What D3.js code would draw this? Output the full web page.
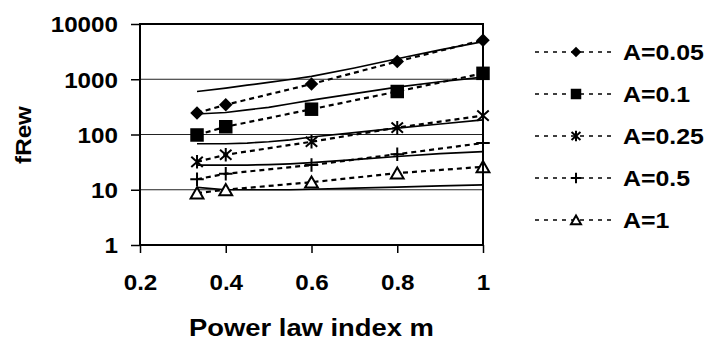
<!DOCTYPE html>
<html>
<head>
<meta charset="utf-8">
<script src="https://cdn.jsdelivr.net/npm/d3@7"></script>
<style>
  body { margin: 0; background: #fff; }
  text { font-family: "Liberation Sans", Arial, sans-serif; font-weight: bold; fill: #000; }
</style>
</head>
<body>
<svg id="chart" width="710" height="345"></svg>
<script>
// measured points (markers + dashed lines)
const mValues = [0.333, 0.4, 0.6, 0.8, 1.0];
const seriesNames = ["A=0.05", "A=0.1", "A=0.25", "A=0.5", "A=1"];
const markerTypes = ["diamond", "square", "star", "plus", "triangle"];
const fRew005 = [245, 345, 820, 2100, 5100];
const fRew01 = [98, 138, 287, 600, 1280];
const fRew025 = [32, 43, 74, 133, 220];
const fRew05 = [15.5, 19.5, 28, 44, 70];
const fRew1 = [8.7, 10, 13.7, 20, 26];

// solid curves (no markers)
const theoryM = [0.333, 0.4, 0.45, 0.5, 0.55, 0.6, 0.7, 0.8, 0.9, 1.0];
const theory005 = [600, 690, 780, 880, 990, 1130, 1600, 2350, 3400, 4800];
const theory01 = [235, 250, 280, 310, 360, 420, 550, 720, 900, 1090];
const theory025 = [68, 68, 70, 74, 80, 90, 108, 130, 155, 184];
const theory05 = [28, 28, 28, 28.5, 29.5, 31, 35, 40, 45, 49];
const theory1 = [11, 10, 10, 10, 10, 10.2, 10.7, 11.2, 11.8, 12.3];

const yTicks = [1, 10, 100, 1000, 10000];
const xTicks = [0.2, 0.4, 0.6, 0.8, 1];

const measured = [fRew005, fRew01, fRew025, fRew05, fRew1];
const theory = [theory005, theory01, theory025, theory05, theory1];

const plotLeft = 140, plotRight = 483, plotTop = 24, plotBottom = 245;

const svg = d3.select("#chart");

const x = d3.scaleLinear().domain([0.2, 1]).range([plotLeft, plotRight]);
const y = d3.scaleLog().domain([1, 10000]).range([plotBottom, plotTop]);

function stretch(sel, k) {
  sel.each(function () {
    const w = this.getComputedTextLength();
    d3.select(this).attr("textLength", w * k).attr("lengthAdjust", "spacingAndGlyphs");
  });
}

function markerPath(type, s) {
  const h = s / 2;
  if (type === "diamond") return `M0,${-h}L${h},0L0,${h}L${-h},0Z`;
  if (type === "square") return `M${-h},${-h}H${h}V${h}H${-h}Z`;
  if (type === "star") return `M${-h * 0.85},${-h * 0.75}L${h * 0.85},${h * 0.75}M${h * 0.85},${-h * 0.75}L${-h * 0.85},${h * 0.75}M0,${-h}V${h}`;
  if (type === "plus") return `M${-h},0H${h}M0,${-h}V${h}`;
  return `M0,${-h * 0.85}L${h * 0.95},${h * 0.8}L${-h * 0.95},${h * 0.8}Z`;
}

function drawMarker(g, type, s) {
  const p = g.append("path").attr("d", markerPath(type, s));
  if (type === "diamond" || type === "square") p.attr("fill", "#000").attr("stroke", "none");
  else if (type === "triangle") p.attr("fill", "#fff").attr("stroke", "#000").attr("stroke-width", 2);
  else p.attr("fill", "none").attr("stroke", "#000").attr("stroke-width", 2);
}

// gridlines
svg.append("g")
  .selectAll("line")
  .data([10, 100, 1000])
  .enter()
  .append("line")
  .attr("x1", plotLeft).attr("x2", plotRight)
  .attr("y1", (d) => y(d)).attr("y2", (d) => y(d))
  .attr("stroke", "#222").attr("stroke-width", 1);

// solid curves
const solid = d3.line().x((d) => x(d[0])).y((d) => y(d[1]));
theory.forEach((vals) => {
  svg.append("path")
    .datum(theoryM.map((m, i) => [m, vals[i]]))
    .attr("d", solid)
    .attr("fill", "none")
    .attr("stroke", "#000")
    .attr("stroke-width", 1.7);
});

// dashed measured lines + markers
measured.forEach((vals, si) => {
  const pts = mValues.map((m, i) => [m, vals[i]]);
  svg.append("path")
    .datum(pts)
    .attr("d", solid)
    .attr("fill", "none")
    .attr("stroke", "#000")
    .attr("stroke-width", 2.2)
    .attr("stroke-dasharray", "5,4");
  pts.forEach((p) => {
    const g = svg.append("g").attr("transform", `translate(${x(p[0])},${y(p[1])})`);
    drawMarker(g, markerTypes[si], 13.5);
  });
});

// plot border
svg.append("rect")
  .attr("x", plotLeft).attr("y", plotTop)
  .attr("width", plotRight - plotLeft).attr("height", plotBottom - plotTop)
  .attr("fill", "none").attr("stroke", "#000").attr("stroke-width", 2);

// axes
const yAxis = svg.append("g")
  .attr("transform", `translate(${plotLeft},0)`)
  .call(d3.axisLeft(y).tickValues(yTicks).tickFormat(d3.format("d")).tickSize(9).tickPadding(13));
yAxis.select(".domain").remove();
yAxis.selectAll("line").attr("stroke", "#000").attr("stroke-width", 1.5);
yAxis.selectAll("text").attr("font-size", 22).attr("font-family", null).attr("dy", "0.36em").attr("fill", "#000");
stretch(yAxis.selectAll("text"), 1.1);

const xAxis = svg.append("g")
  .attr("transform", `translate(0,${plotBottom})`)
  .call(d3.axisBottom(x).tickValues(xTicks).tickFormat((d) => d === 1 ? "1" : d3.format(".1f")(d)).tickSize(8).tickPadding(0));
xAxis.select(".domain").remove();
xAxis.selectAll("line").attr("stroke", "#000").attr("stroke-width", 1.5);
xAxis.selectAll("text").attr("font-size", 22).attr("font-family", null).attr("y", 45).attr("dy", 0).attr("fill", "#000");
stretch(xAxis.selectAll("text"), 1.1);

// axis titles
const xTitle = svg.append("text")
  .attr("x", (plotLeft + plotRight) / 2).attr("y", 336)
  .attr("text-anchor", "middle").attr("font-size", 23)
  .text("Power law index m");
stretch(xTitle, 1.19);

const yTitle = svg.append("text")
  .attr("transform", `translate(31,135) rotate(-90)`)
  .attr("text-anchor", "middle").attr("font-size", 22)
  .text("fRew");
stretch(yTitle, 1.1);

// legend
const legend = svg.selectAll(".legend")
  .data(seriesNames)
  .enter()
  .append("g")
  .attr("class", "legend")
  .attr("transform", (d, i) => `translate(535,${52 + i * 42})`);

legend.append("line")
  .attr("x1", 0).attr("x2", 80)
  .attr("stroke", "#000").attr("stroke-width", 1.5)
  .attr("stroke-dasharray", "4,5");

legend.each(function (d, i) {
  const g = d3.select(this).append("g").attr("transform", "translate(41,0)");
  drawMarker(g, markerTypes[i], 10.5);
});

const legendText = legend.append("text")
  .attr("x", 88).attr("y", 0).attr("dy", "0.36em")
  .attr("font-size", 22)
  .text((d) => d);
stretch(legendText, 1.13);
</script>
</body>
</html>
